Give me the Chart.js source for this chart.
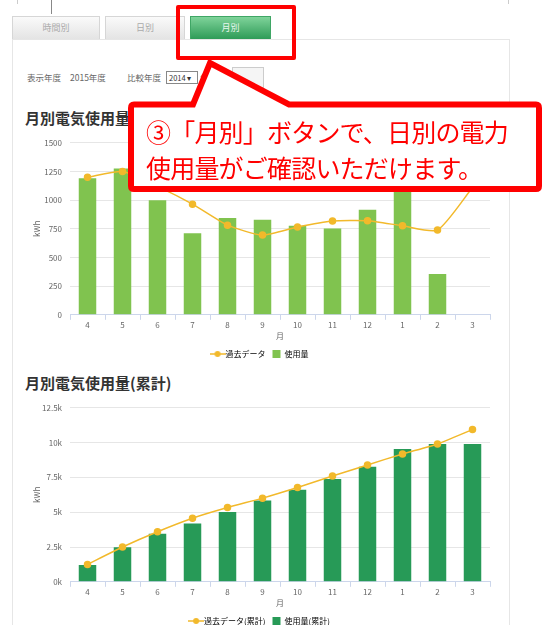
<!DOCTYPE html>
<html>
<head>
<meta charset="utf-8">
<script src="https://cdn.jsdelivr.net/npm/chart.js@4.4.1/dist/chart.umd.min.js"></script>
<style>
  body { margin: 0; background: #fff; font-family: "Noto Sans CJK JP", "Noto Sans", sans-serif; }
  #page { position: relative; width: 548px; height: 625px; overflow: hidden; }
  .abs { position: absolute; }
  .tab { position: absolute; top: 16px; height: 22px; border: 1px solid #d6d6d6; border-bottom: none;
         background: linear-gradient(#fafafa, #e4e4e4); color: #aaa; font-size: 9px; text-align: center; line-height: 22px; }
  .tab.on { background: linear-gradient(#7fd39a, #2e9b57); color: #e9f7ee; border-color: #3fa665; }
  .panel { position: absolute; left: 12px; top: 39px; width: 496px; height: 600px; border: 1px solid #e6e6e6; }
  .lbl { position: absolute; font-size: 8.5px; color: #666; line-height: 12px; }
  .ttl { position: absolute; font-size: 15px; font-weight: bold; color: #333; }
  .callText { position: absolute; left: 146px; color: #ff0000; font-size: 25px; letter-spacing: -0.8px; white-space: nowrap; line-height: 1; }
</style>
</head>
<body>
<div id="page">
  <div class="abs" style="left:17px;top:0;width:1px;height:4px;background:#ccc"></div>
  <div class="abs" style="left:508px;top:0;width:1px;height:4px;background:#ccc"></div>
  <div class="abs" style="left:51px;top:0;width:1px;height:14px;background:#888"></div>

  <div class="panel"></div>
  <div class="tab" style="left:12px;width:86px">時間別</div>
  <div class="tab" style="left:105px;width:78px">日別</div>
  <div class="tab on" style="left:190px;width:79px">月別</div>

  <div class="lbl" style="left:27px;top:71px">表示年度</div>
  <div class="lbl" style="left:70px;top:71px">2015年度</div>
  <div class="lbl" style="left:127px;top:71px">比較年度</div>
  <div class="abs" style="left:166px;top:71px;width:28px;height:11px;border:1px solid #888;font-size:7.5px;line-height:11px;padding-left:2px;color:#333">2014 ▾</div>
  <div class="lbl" style="left:200px;top:71px">年</div>
  <div class="abs" style="left:232px;top:67px;width:30px;height:19px;border:1px solid #ccc;background:#f5f5f5"></div>

  <div class="ttl" style="left:25px;top:107px">月別電気使用量</div>
  <div class="ttl" style="left:25px;top:372px">月別電気使用量(累計)</div>

  <canvas id="c1" class="abs" style="left:20px;top:130px" width="485" height="238"></canvas>
  <canvas id="c2" class="abs" style="left:20px;top:395px" width="485" height="240"></canvas>

  <!-- highlight and callout -->
  <div class="abs" style="left:176px;top:5px;width:112px;height:47px;border:4px solid #ff0000;border-radius:2px"></div>
  <svg class="abs" style="left:0;top:0" width="548" height="625">
    <path d="M134 104.5 L193 104.5 L210 63 L289 104.5 L536 104.5 Q539 104.5 539 108 L539 186 Q539 189 536 189 L134 189 Q131 189 131 186 L131 108 Q131 104.5 134 104.5 Z"
          fill="#fff" stroke="#ff0000" stroke-width="6" stroke-linejoin="miter"/>
  </svg>
  <div class="callText" style="top:119px">③「月別」ボタンで、日別の電力</div>
  <div class="callText" style="top:155px">使用量がご確認いただけます。</div>
</div>

<script>
var months = ['4', '5', '6', '7', '8', '9', '10', '11', '12', '1', '2', '3'];
var usage = [1190, 1275, 1000, 712, 845, 828, 776, 752, 916, 1260, 355, null];
var pastUsage = [1200, 1250, 1120, 965, 782, 695, 765, 817, 820, 776, 739, 1110];
var usageTotal = [1200, 2480, 3460, 4180, 5020, 5840, 6610, 7380, 8270, 9545, 9905, 9905];
var pastTotal = [1250, 2500, 3600, 4570, 5335, 6010, 6775, 7595, 8395, 9185, 9905, 10935];
var yTicks2 = ['0k', '2.5k', '5k', '7.5k', '10k', '12.5k'];

var lineColor = '#f2b92b';
var gridColor = '#e6e6e6';
var axisColor = '#ccd6eb';
var tickFont = { family: '"Noto Sans CJK JP", sans-serif', size: 8 };

// legend symbol for the line series: short line with a dot
function lineSymbol() {
  var c = document.createElement('canvas');
  c.width = 16; c.height = 8;
  var g = c.getContext('2d');
  g.strokeStyle = lineColor; g.lineWidth = 1.5;
  g.beginPath(); g.moveTo(0, 4); g.lineTo(16, 4); g.stroke();
  g.fillStyle = lineColor;
  g.beginPath(); g.arc(8, 4, 3, 0, Math.PI * 2); g.fill();
  return c;
}
var lineSym = lineSymbol();

function makeOptions(yMax, yStep, tickCb) {
  return {
    responsive: false,
    animation: false,
    layout: { padding: { left: 12, right: 15, top: 6, bottom: 0 } },
    plugins: {
      tooltip: { enabled: false },
      legend: {
        position: 'bottom',
        labels: {
          usePointStyle: true,
          color: '#333',
          font: { family: '"Noto Sans CJK JP", sans-serif', size: 8 },
          boxHeight: 8,
          padding: 7,
          generateLabels: function(chart) {
            return chart.data.datasets.map(function(ds, i) {
              return {
                text: ds.label,
                fillStyle: ds.backgroundColor,
                strokeStyle: ds.backgroundColor,
                lineWidth: 0,
                pointStyle: ds.type === 'line' ? lineSym : 'rect',
                datasetIndex: i
              };
            });
          }
        }
      }
    },
    scales: {
      x: {
        grid: { offset: true, drawOnChartArea: false, tickLength: 5, color: axisColor },
        border: { color: axisColor },
        ticks: { color: '#666', font: tickFont, padding: 0 },
        title: { display: true, text: '月', color: '#666', font: tickFont, padding: 2 }
      },
      y: {
        min: 0, max: yMax,
        afterFit: function(s) { s.width = 38; },
        grid: { color: gridColor, drawTicks: false },
        border: { display: false },
        ticks: { stepSize: yStep, color: '#666', font: tickFont, padding: 8, callback: tickCb },
        title: { display: true, text: 'kWh', color: '#666', font: tickFont, padding: 0 }
      }
    }
  };
}

new Chart(document.getElementById('c1'), {
  type: 'bar',
  data: {
    labels: months,
    datasets: [{
      type: 'line',
      label: '過去データ',
      data: pastUsage,
      borderColor: lineColor,
      backgroundColor: lineColor,
      borderWidth: 1.5,
      pointRadius: 3,
      tension: 0.2,
      order: 0
    }, {
      type: 'bar',
      label: '使用量',
      data: usage,
      backgroundColor: '#80c34f',
      categoryPercentage: 1,
      barPercentage: 0.5,
      order: 1
    }]
  },
  options: makeOptions(1500, 250, function(v) { return v; })
});

new Chart(document.getElementById('c2'), {
  type: 'bar',
  data: {
    labels: months,
    datasets: [{
      type: 'line',
      label: '過去データ(累計)',
      data: pastTotal,
      borderColor: lineColor,
      backgroundColor: lineColor,
      borderWidth: 1.5,
      pointRadius: 3,
      tension: 0.2,
      order: 0
    }, {
      type: 'bar',
      label: '使用量(累計)',
      data: usageTotal,
      backgroundColor: '#279a57',
      categoryPercentage: 1,
      barPercentage: 0.5,
      order: 1
    }]
  },
  options: makeOptions(12500, 2500, function(v, i) { return yTicks2[i]; })
});
</script>
</body>
</html>
